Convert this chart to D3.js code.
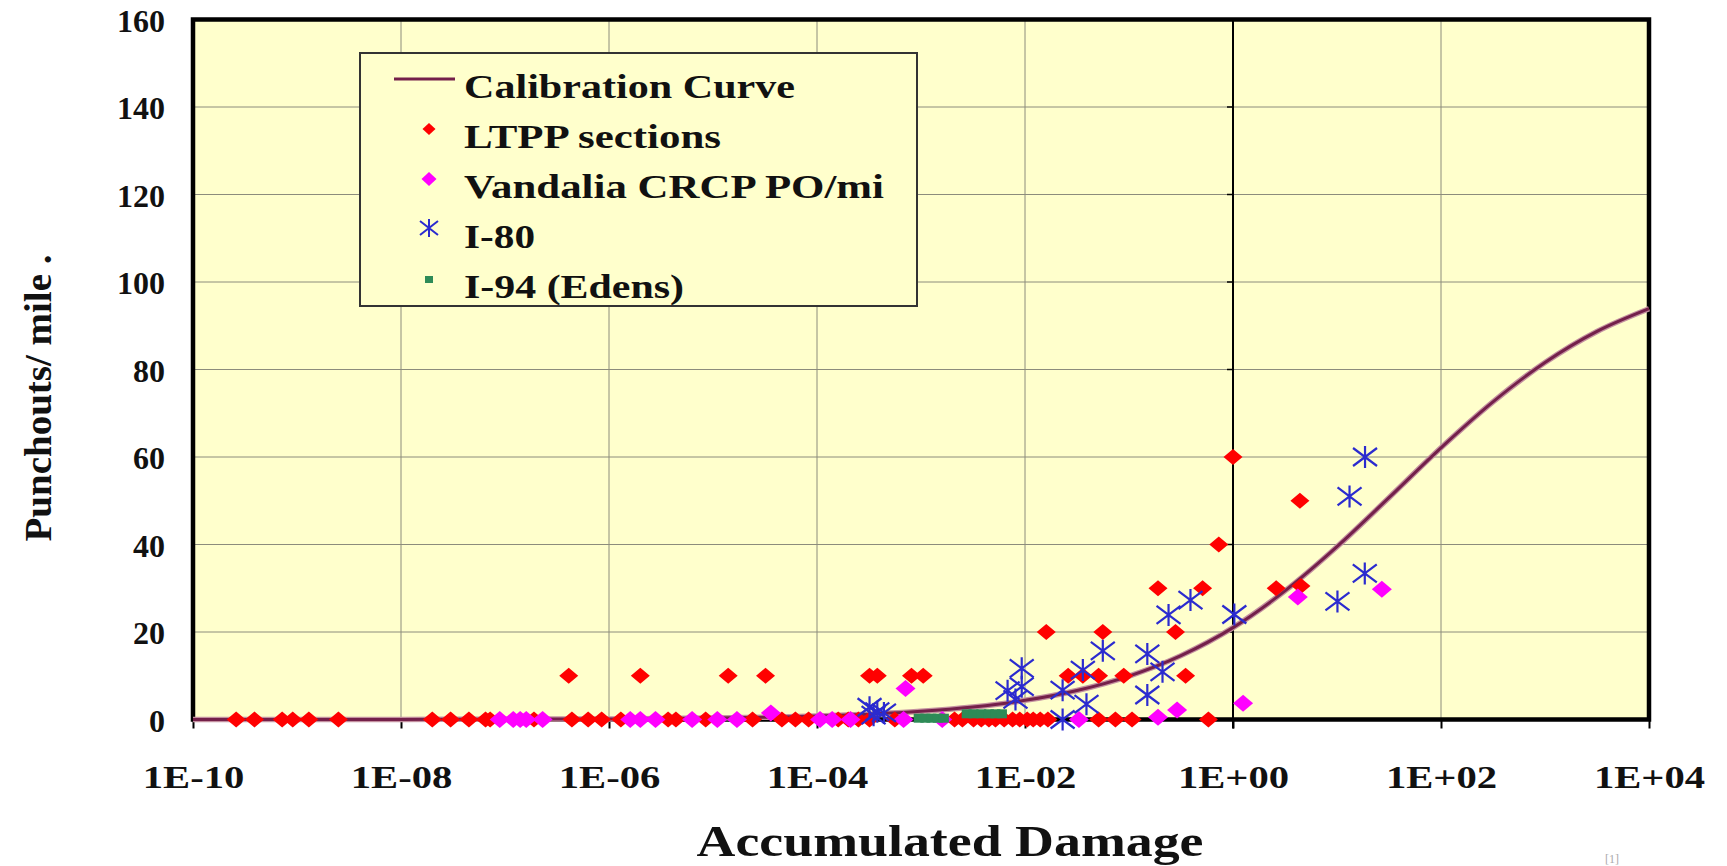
<!DOCTYPE html>
<html><head><meta charset="utf-8">
<script src="https://cdn.jsdelivr.net/npm/d3@7"></script>
<style>html,body{margin:0;padding:0;background:#fff;} svg{display:block}</style>
</head><body>
<svg id="c" width="1727" height="866"></svg>
<script>
// ---- data ----
const xTicks = [1e-10, 1e-8, 1e-6, 1e-4, 1e-2, 1e0, 1e2, 1e4];
const yTicks = [0, 20, 40, 60, 80, 100, 120, 140, 160];

const calDamage = [1e-10, 1e-9, 1e-8, 1e-7, 1e-6, 1e-5, 3.16e-5, 1e-4, 3.16e-4, 1e-3, 3.16e-3, 1e-2, 3.16e-2, 0.1, 0.316, 1, 3.16, 10, 31.6, 100, 316, 1000, 3162, 10000];
const calPunch  = [0.0, 0.01, 0.02, 0.06, 0.14, 0.33, 0.51, 0.79, 1.22, 1.87, 2.87, 4.38, 6.64, 9.93, 14.6, 21.0, 29.4, 39.5, 50.7, 62.1, 72.6, 81.6, 88.7, 93.9];

const ltppDamage = [2.6e-10, 3.9e-10, 7.2e-10, 9.1e-10, 1.3e-9, 2.5e-9, 2.0e-8, 3.0e-8, 4.5e-8, 6.5e-8, 7.2e-8, 1.9e-7, 4.4e-7, 6.3e-7, 8.5e-7, 1.3e-6, 3.7e-6, 4.4e-6, 8.5e-6, 2.4e-5, 4.6e-5, 6.2e-5, 8.3e-5, 1.6e-4, 2.0e-4, 2.5e-4, 3.2e-4, 5.6e-4, 2.1e-3, 2.5e-3, 3.2e-3, 3.8e-3, 4.5e-3, 5.2e-3, 6.3e-3, 7.6e-3, 8.9e-3, 1.05e-2, 1.2e-2, 1.4e-2, 1.66e-2, 5.1e-2, 7.4e-2, 0.107, 0.58,
  4.1e-7, 2.0e-6, 1.4e-5, 3.2e-5, 3.2e-4, 3.8e-4, 8.1e-4, 1.05e-3, 2.6e-2, 3.6e-2, 5.1e-2, 8.9e-2, 0.35,
  0.016, 0.056, 0.28,
  0.19, 0.51, 2.6, 4.5,
  0.73, 4.4, 1.0];
const ltppPunch = [0,0,0,0,0,0,0,0,0,0,0,0,0,0,0,0,0,0,0,0,0,0,0,0,0,0,0,0,0,0,0,0,0,0,0,0,0,0,0,0,0,0,0,0,0,
  10,10,10,10,10,10,10,10,10,10,10,10,10,
  20,20,20,
  30,30,30,30.5,
  40,50,60];

const vandDamage = [8.9e-8, 1.2e-7, 1.4e-7, 1.6e-7, 2.3e-7, 1.6e-6, 2.0e-6, 2.8e-6, 6.3e-6, 1.1e-5, 1.7e-5, 1.07e-4, 1.4e-4, 2.1e-4, 6.8e-4, 1.6e-3, 3.3e-2, 0.19,
  3.6e-5, 7.1e-4, 0.29, 1.25, 4.2, 27];
const vandPunch = [0,0,0,0,0,0,0,0,0,0,0,0,0,0,0,0,0,0.5,
  1.5, 7.1, 2.2, 3.7, 28, 29.8];

const i80Damage = [18.6, 13.2, 18.5, 10.1, 1.03, 0.39, 0.24, 0.056, 0.15, 0.21, 0.036, 0.15, 0.0093, 0.0093, 0.0068, 0.0081, 0.023, 0.039, 0.023, 3.2e-4, 3.8e-4, 4.4e-4, 3.5e-4];
const i80Punch  = [60, 51, 33.4, 27, 24, 27.3, 23.9, 15.7, 15, 10.9, 11.3, 5.6, 11.7, 7.5, 6.6, 4.6, 6.7, 3.5, 0, 2.8, 1.8, 1.5, 1.0];

const i94Damage = [9.5e-4, 1.1e-3, 1.26e-3, 1.45e-3, 1.66e-3, 2.75e-3, 3.2e-3, 3.8e-3, 4.5e-3, 5.2e-3, 6.0e-3];
const i94Punch  = [0.3, 0.3, 0.3, 0.3, 0.3, 1.3, 1.3, 1.3, 1.3, 1.3, 1.3];

const legendLabels = ["Calibration Curve", "LTPP sections", "Vandalia CRCP PO/mi", "I-80", "I-94 (Edens)"];

// ---- layout ----
const L = 193, R = 1649, T = 19.5, B = 719.5;
const FONT = "'Liberation Serif','Times New Roman',Times,serif";
const svg = d3.select("#c");
svg.append("rect").attr("width",1727).attr("height",866).attr("fill","#ffffff");

const x = d3.scaleLog().domain([1e-10, 1e4]).range([L, R]);
const y = d3.scaleLinear().domain([0, 160]).range([B, T]);

// plot background
svg.append("rect").attr("x",L).attr("y",T).attr("width",R-L).attr("height",B-T).attr("fill","#ffffcc");

// grid
const grid = svg.append("g").attr("stroke","#8c8c7c").attr("stroke-width",1);
yTicks.filter(v=>v>0 && v<160).forEach(v=>{
  grid.append("line").attr("x1",L).attr("x2",R).attr("y1",y(v)).attr("y2",y(v));
});
xTicks.filter(v=>v>1e-10 && v<1e4 && v!==1).forEach(v=>{
  grid.append("line").attr("x1",x(v)).attr("x2",x(v)).attr("y1",T).attr("y2",B);
});

// x axis
const fmt = d => { const e = Math.round(Math.log10(d)); return "1E" + (e<0?"-":"+") + String(Math.abs(e)).padStart(2,"0"); };
const xa = svg.append("g").attr("transform",`translate(0,${B})`)
  .call(d3.axisBottom(x).tickValues(xTicks).tickFormat(fmt).tickSize(9).tickSizeOuter(0));
xa.select(".domain").remove();
xa.selectAll(".tick line").attr("stroke","#000").attr("stroke-width",2);
xa.selectAll(".tick text").attr("y",57).attr("dy","0.35em")
  .attr("font-family",FONT).attr("font-weight","bold").attr("font-size",32)
  .attr("fill","#111").attr("transform","scale(1.27,1)");

// y axis
const ya = svg.append("g").attr("transform",`translate(${L},0)`)
  .call(d3.axisLeft(y).tickValues(yTicks).tickSize(0).tickPadding(0));
ya.select(".domain").remove();
ya.selectAll(".tick text").attr("x",-28).attr("dy","0.36em")
  .attr("font-family",FONT).attr("font-weight","bold").attr("font-size",32)
  .attr("fill","#111");

// vertical axis at 1E+00
const vx = x(1);
svg.append("line").attr("x1",vx).attr("x2",vx).attr("y1",T).attr("y2",B+9).attr("stroke","#000").attr("stroke-width",2);
yTicks.filter(v=>v>0 && v<160).forEach(v=>{
  svg.append("line").attr("x1",vx-6).attr("x2",vx).attr("y1",y(v)).attr("y2",y(v)).attr("stroke","#000").attr("stroke-width",1.5);
});

// border
svg.append("rect").attr("x",L).attr("y",T).attr("width",R-L).attr("height",B-T)
  .attr("fill","none").attr("stroke","#000").attr("stroke-width",4.5);

// calibration curve
const cal = calDamage.map((d,i)=>[d, calPunch[i]]);
const line = d3.line().x(d=>x(d[0])).y(d=>y(d[1])).curve(d3.curveMonotoneX);
svg.append("path").datum(cal).attr("d",line).attr("fill","none").attr("stroke","#c3909f").attr("stroke-width",5.5);
svg.append("path").datum(cal).attr("d",line).attr("fill","none").attr("stroke","#74204a").attr("stroke-width",3);

// markers
const diamond = (w,h) => `M0,${-h}L${w},0L0,${h}L${-w},0Z`;
function drawDiamonds(ds, ps, color, w, h){
  svg.append("g").selectAll("path").data(ds.map((d,i)=>[d,ps[i]])).join("path")
    .attr("d", diamond(w,h)).attr("fill",color)
    .attr("transform", d=>`translate(${x(d[0])},${y(d[1])})`);
}
drawDiamonds(ltppDamage, ltppPunch, "#ff0000", 9.5, 8);
drawDiamonds(vandDamage, vandPunch, "#ff00ff", 10, 8.5);

const star = "M-12,-9L12,9M-12,9L12,-9M0,-11L0,11";
svg.append("g").selectAll("path").data(i80Damage.map((d,i)=>[d,i80Punch[i]])).join("path")
  .attr("d", star).attr("stroke","#2b2bcf").attr("stroke-width",2.2).attr("fill","none")
  .attr("transform", d=>`translate(${x(d[0])},${y(d[1])})`);

svg.append("g").selectAll("rect").data(i94Damage.map((d,i)=>[d,i94Punch[i]])).join("rect")
  .attr("x",-5).attr("y",-4.5).attr("width",10).attr("height",9).attr("fill","#2e8b57")
  .attr("transform", d=>`translate(${x(d[0])},${y(d[1])})`);

// legend
const lg = svg.append("g");
lg.append("rect").attr("x",360).attr("y",53).attr("width",557).attr("height",253)
  .attr("fill","#ffffcc").attr("stroke","#333").attr("stroke-width",2);
const rowsY = [86, 136, 186, 236, 286];
const widths = [331, 257, 420, 71, 220];
legendLabels.forEach((t,i)=>{
  lg.append("text").attr("x",464).attr("y",rowsY[i]).attr("dy","0.35em")
    .attr("font-family",FONT).attr("font-weight","bold").attr("font-size",34)
    .attr("textLength",widths[i]).attr("lengthAdjust","spacingAndGlyphs")
    .attr("fill","#111").text(t);
});
lg.append("line").attr("x1",394).attr("x2",455).attr("y1",79).attr("y2",79).attr("stroke","#74204a").attr("stroke-width",3);
lg.append("path").attr("d",diamond(6.5,6)).attr("fill","#ff0000").attr("transform","translate(429,129)");
lg.append("path").attr("d",diamond(7.5,7)).attr("fill","#ff00ff").attr("transform","translate(429,179)");
lg.append("path").attr("d","M-9,-7L9,7M-9,7L9,-7M0,-9L0,9").attr("stroke","#2b2bcf").attr("stroke-width",2).attr("transform","translate(429,228)");
lg.append("rect").attr("x",425).attr("y",276).attr("width",8).attr("height",7).attr("fill","#2e8b57");

// axis titles
svg.append("text").attr("x",950).attr("y",856).attr("text-anchor","middle")
  .attr("font-family",FONT).attr("font-weight","bold").attr("font-size",44)
  .attr("textLength",507).attr("lengthAdjust","spacingAndGlyphs").attr("fill","#111").text("Accumulated Damage");
svg.append("text").attr("transform","translate(38,398) rotate(-90)").attr("dy","0.35em").attr("text-anchor","middle")
  .attr("font-family",FONT).attr("font-weight","bold").attr("font-size",38)
  .attr("textLength",287).attr("lengthAdjust","spacingAndGlyphs").attr("fill","#111").text("Punchouts/ mile .");

// footnote marker
svg.append("text").attr("x",1605).attr("y",863).attr("font-family",FONT).attr("font-size",12).attr("fill","#aaa").text("[1]");
</script>
</body></html>
